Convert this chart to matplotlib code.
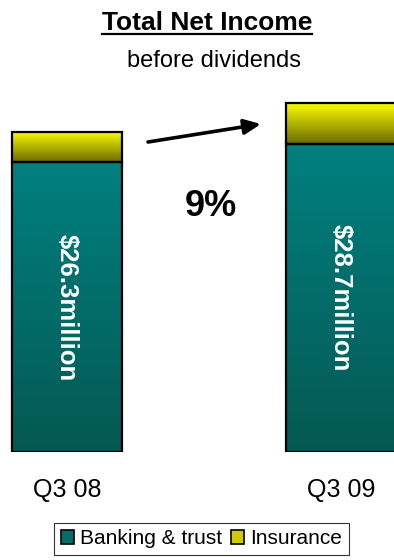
import matplotlib
matplotlib.use('Agg')
import matplotlib.pyplot as plt
import numpy as np
from matplotlib.colors import LinearSegmentedColormap
from matplotlib.patches import Patch
from matplotlib.lines import Line2D

plt.rcParams['font.family'] = ['Liberation Sans', 'DejaVu Sans']

# данные
quarters = ['Q3 08', 'Q3 09']
banking = [23.8, 25.3]
insurance = [2.5, 3.4]
bar_labels = ['$26.3million', '$28.7million']
growth = '9%'
series_names = ['Banking & trust', 'Insurance']

teal_cmap = LinearSegmentedColormap.from_list('teal', ['#055852', '#008080'])
yellow_cmap = LinearSegmentedColormap.from_list('yel', ['#6a6a00', '#ffff00'])

fig = plt.figure(figsize=(3.94, 5.6), dpi=100)
ax = fig.add_axes([0, 108 / 560, 1, 452 / 560])
ax.set_xlim(-67 / 274, 327 / 274)
ax.set_ylim(0, 452 / 12.17)
ax.axis('off')

x = np.arange(len(quarters))
width = 0.4


def gradient_bars(bars, cmap):
    # заливка градиентом внутри каждого прямоугольника
    grad = np.linspace(0, 1, 256).reshape(-1, 1)
    for b in bars:
        x0, y0 = b.get_x(), b.get_y()
        im = ax.imshow(grad, cmap=cmap, origin='lower', aspect='auto',
                       extent=(x0, x0 + b.get_width(), y0, y0 + b.get_height()),
                       zorder=2)
        im.set_clip_path(b)


b1 = ax.bar(x, banking, width, facecolor='none', edgecolor='black', linewidth=1.6, zorder=3)
b2 = ax.bar(x, insurance, width, bottom=banking, facecolor='none', edgecolor='black',
            linewidth=1.6, zorder=3)
gradient_bars(b1, teal_cmap)
gradient_bars(b2, yellow_cmap)
ax.set_xlim(-67 / 274, 327 / 274)
ax.set_ylim(0, 452 / 12.17)

for i, lbl in enumerate(bar_labels):
    ax.text(x[i], banking[i] / 2, lbl, rotation=-90, ha='center', va='center',
            color='white', fontsize=18.5, fontweight='bold', zorder=4)

for i, q in enumerate(quarters):
    fig.text((67 + 274 * i) / 394, 1 - 490 / 560, q, ha='center', va='center', fontsize=18)

title = fig.text(0.525, 1 - 22.5 / 560, 'Total Net Income', ha='center', va='center',
                 fontsize=19, fontweight='bold')
fig.text(0.542, 1 - 61 / 560, 'before dividends', ha='center', va='center', fontsize=17)

ax.annotate('', xy=(261 / 394, 1 - 124 / 560), xytext=(148 / 394, 1 - 142 / 560),
            xycoords='figure fraction', textcoords='figure fraction',
            arrowprops=dict(arrowstyle='-|>,head_length=1.0,head_width=0.45',
                            color='black', lw=2.6, shrinkA=0, shrinkB=0))
fig.text(211 / 394, 1 - 207 / 560, growth, ha='center', va='center',
         fontsize=26, fontweight='bold')

handles = [Patch(facecolor='#036e6a', edgecolor='black', linewidth=1.2),
           Patch(facecolor='#cccc00', edgecolor='black', linewidth=1.2)]
leg = fig.legend(handles, series_names, loc='upper center', ncol=2,
                 bbox_to_anchor=(201.5 / 394, 1 - 523 / 560), fontsize=15,
                 frameon=True, fancybox=False, handlelength=0.65, handleheight=0.65,
                 handletextpad=0.3, columnspacing=0.4, borderpad=0.3, borderaxespad=0)
leg.get_frame().set_edgecolor('black')
leg.get_frame().set_linewidth(0.8)

# подчёркивание заголовка
fig.canvas.draw()
bb = title.get_window_extent()
fw, fh = fig.get_size_inches() * fig.dpi
fig.add_artist(Line2D([bb.x0 / fw, bb.x1 / fw], [(bb.y0 + 1) / fh, (bb.y0 + 1) / fh],
                      transform=fig.transFigure, color='black', lw=1.6))

fig.savefig('out.png', dpi=100)
